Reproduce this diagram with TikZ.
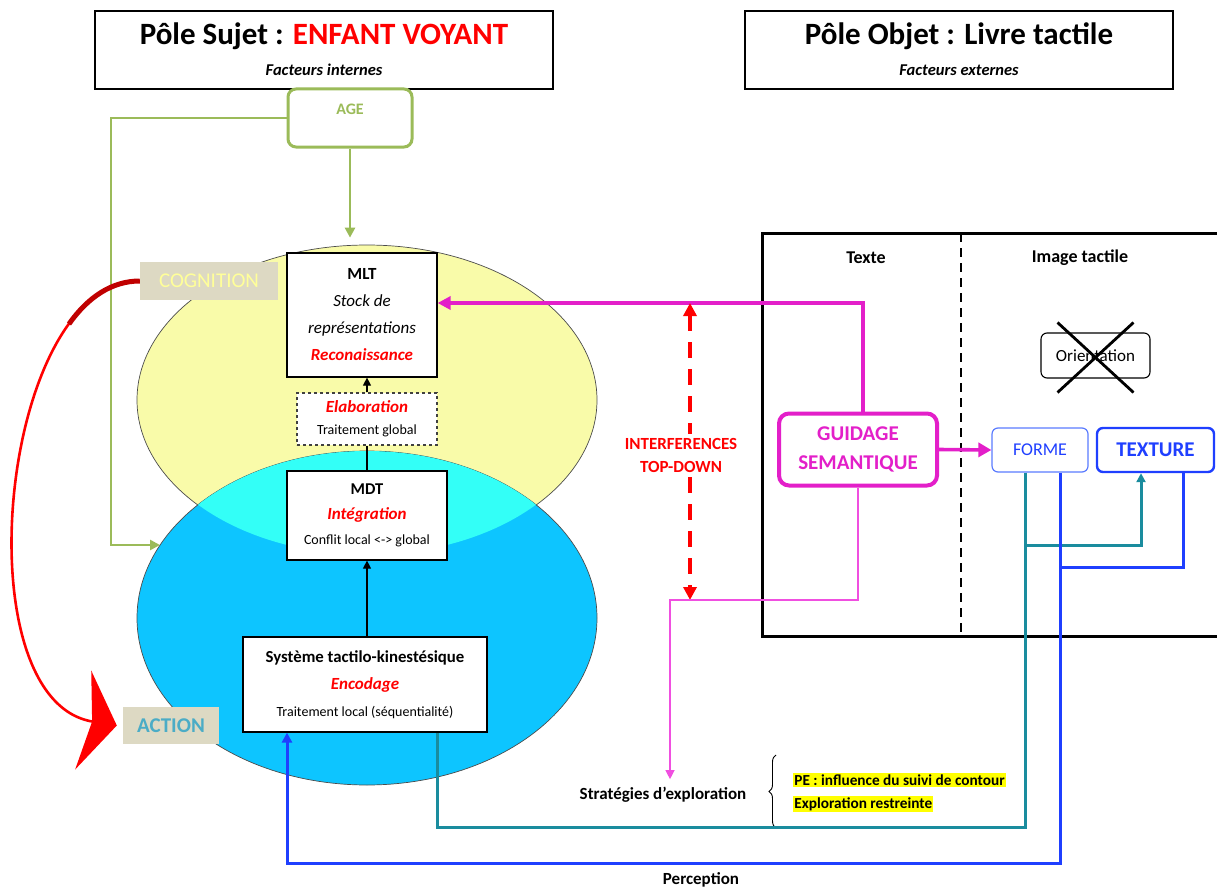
\documentclass[tikz,border=0pt]{standalone}
\usepackage{fontspec}
\setmainfont{Carlito}
\usetikzlibrary{shapes.geometric,arrows.meta,decorations.pathreplacing,calc}
\definecolor{gr}{HTML}{9BBB59}
\definecolor{mag}{HTML}{E31FC9}
\definecolor{magl}{HTML}{F04FE0}
\definecolor{tealc}{HTML}{1A8C9E}
\definecolor{bluc}{HTML}{1F3FFF}
\definecolor{blul}{HTML}{5A7BFF}
\definecolor{tanc}{HTML}{DDD9C3}
\definecolor{acttxt}{HTML}{4BACC6}
\definecolor{cogtxt}{HTML}{FFFF99}
\definecolor{ylw}{HTML}{F9FBA9}
\definecolor{cyn}{HTML}{33FFF7}
\definecolor{sky}{HTML}{0DC5FF}
\definecolor{dred}{HTML}{C00000}
\definecolor{hl}{HTML}{FFFF00}
\newcommand{\fsz}[2]{\fontsize{#1}{#2}\selectfont}
\begin{document}
\begin{tikzpicture}[x=1pt,y=-1pt,
  titlebox/.style={draw, line width=1.8pt, fill=white, inner sep=0pt},
  box/.style={draw, line width=1.2pt, fill=white, align=center, inner sep=0pt},
  rbox/.style={draw, rounded corners=6pt, fill=white, align=center, inner sep=0pt},
  lbl/.style={inner sep=0pt, align=center},
  tag/.style={fill=tanc, inner sep=0pt},
  greenline/.style={gr, line width=2.6pt},
  magline/.style={mag, line width=3.6pt},
  magthin/.style={magl, line width=1.2pt},
  tealline/.style={tealc, line width=3pt},
  blueline/.style={bluc, line width=3pt},
  blackarrow/.style={line width=1.2pt, -{Triangle[length=8pt,width=8pt]}}
]
\useasboundingbox (0,0) rectangle (1217,888);

% ---------- ellipses
\node[ellipse, fill=ylw, draw=black!70, line width=0.7pt, minimum width=460pt, minimum height=310pt, inner sep=0pt] (yel) at (367,400) {};
\node[ellipse, fill=sky, draw=black!70, line width=0.7pt, minimum width=460pt, minimum height=334pt, inner sep=0pt] (blu) at (367,618) {};
\begin{scope}
  \clip (367,400) ellipse [x radius=229.6pt, y radius=154.6pt];
  \fill[cyn] (367,618) ellipse [x radius=230pt, y radius=167pt];
\end{scope}

% ---------- title boxes
\node[titlebox, minimum width=458pt, minimum height=78pt] (subj) at (324,50) {};
\node[lbl, font=\fsz{31}{34}\bfseries] (subjT) at (324,36) {Pôle Sujet : \textcolor{red}{ENFANT VOYANT}};
\node[lbl, font=\fsz{16.5}{18}\bfseries\itshape] (subjS) at (324,70) {Facteurs internes};
\node[titlebox, minimum width=428pt, minimum height=78pt] (obj) at (959,50) {};
\node[lbl, font=\fsz{31}{34}\bfseries] (objT) at (959,36) {Pôle Objet : Livre tactile};
\node[lbl, font=\fsz{16.5}{18}\bfseries\itshape] (objS) at (959,70) {Facteurs externes};

% ---------- AGE
\node[draw=gr, line width=3pt, rounded corners=8pt, fill=white, minimum width=124pt, minimum height=58pt, inner sep=0pt,
      text=gr, font=\fsz{16}{18}\bfseries, text height=11pt, text depth=17pt] (age) at (350,118) {AGE};
\coordinate (gleft) at (111,545);
\coordinate (gin) at (160,545);
\draw[greenline, -{Triangle[length=10pt,width=10pt]}] (age.west) -| (gleft) -- (gin);
\draw[greenline, -{Triangle[length=10pt,width=10pt]}] (age.south) -- ($(age.south |- yel.north)+(0,-7)$);

% ---------- boxes in ellipses
\node[box, minimum width=150pt, minimum height=124pt, font=\fsz{17}{27}] (mlt) at (362,315)
  {\textbf{MLT}\\ \textit{Stock de}\\ \textit{représentations}\\ \textcolor{red}{\textbf{\textit{Reconaissance}}}};
\node[box, draw=black!75, dashed, line width=1.2pt, minimum width=140pt, minimum height=52pt, font=\fsz{14}{22}] (elab) at (367,419)
  {\textcolor{red}{\fsz{17}{22}\textbf{\textit{Elaboration}}}\\ Traitement global};
\node[box, minimum width=160pt, minimum height=89pt, font=\fsz{14}{25}] (mdt) at (367,515.5)
  {\fsz{16.5}{25}\textbf{MDT}\\ \textcolor{red}{\fsz{17}{25}\textbf{\textit{Intégration}}}\\ Conflit local <-> global};
\node[box, minimum width=244pt, minimum height=95pt, font=\fsz{14}{27}] (sys) at (365,684.5)
  {\fsz{16.8}{27}\textbf{Système tactilo-kinestésique}\\ \textcolor{red}{\fsz{17}{27}\textbf{\textit{Encodage}}}\\ Traitement local (séquentialité)};

\draw[blackarrow] (elab.north) -- (elab.north |- mlt.south);
\draw[line width=1.2pt] (mdt.north) -- (elab.south);
\draw[blackarrow] (sys.north -| mdt.south) -- (mdt.south);

% ---------- COGNITION / ACTION
\node[tag, minimum width=138pt, minimum height=38pt, text=cogtxt, font=\fsz{21}{23}] (cog) at (209,281) {COGNITION};
\node[tag, minimum width=96pt, minimum height=37pt, text=acttxt, font=\fsz{21}{23}\bfseries] (act) at (171,725.5) {ACTION};
\draw[red, line width=2.6pt, -{Stealth[length=34pt,width=100pt,inset=9pt]}]
  (cog.west) .. controls (0,280) and (-40,700) .. ([xshift=-6pt]act.west);
\coordinate (cogbend) at (69,324);
\draw[dred, line width=5pt] (cog.west) .. controls (112,281) and (88,297) .. (cogbend);

% ---------- right panel
\coordinate (bookTL) at (762,233);
\coordinate (bookBR) at (1230,636);
\draw[line width=3pt] (bookTL -| bookBR) -- (bookTL) |- (bookBR);
\coordinate (dashT) at (961,233);
\coordinate (dashB) at (961,636);
\draw[line width=2.4pt, dash pattern=on 9pt off 6pt] (dashT) -- (dashB);
\node[lbl, font=\fsz{18}{20}\bfseries] (texte) at (866,258) {Texte};
\node[lbl, font=\fsz{18}{20}\bfseries] (imgt) at (1080,258) {Image tactile};

\node[rbox, draw=black, line width=1.1pt, minimum width=109pt, minimum height=45pt, font=\fsz{17}{19}] (orient) at (1095.5,355.5) {Orientation};
\draw[line width=2.8pt] ($(orient.center)+(-38,-33)$) -- ($(orient.center)+(38,37)$);
\draw[line width=2.8pt] ($(orient.center)+(38,-33)$) -- ($(orient.center)+(-38,37)$);

\node[rbox, draw=mag, line width=4pt, rounded corners=10pt, minimum width=158pt, minimum height=72pt, text=mag, font=\fsz{21}{29}\bfseries] (gs) at (858,449.5) {GUIDAGE\\SEMANTIQUE};
\node[rbox, draw=blul, line width=1.2pt, minimum width=96pt, minimum height=44pt, text=bluc, font=\fsz{18}{20}] (forme) at (1040,450) {FORME};
\node[rbox, draw=bluc, line width=2.4pt, minimum width=117pt, minimum height=44pt, text=bluc, font=\fsz{21}{23}\bfseries] (texture) at (1155.5,450) {TEXTURE};

\draw[magline, -{Triangle[length=13pt,width=13pt]}] ([xshift=5pt]gs.north) |- ($(mlt.east)+(0,-12)$);
\draw[magline, -{Triangle[length=13pt,width=14pt]}] (gs.east) -- (forme.west);

% ---------- interferences
\coordinate (itop) at (690,303);
\coordinate (ibot) at (690,600);
\draw[red, line width=4.5pt, dash pattern=on 16pt off 11pt, {Triangle[length=13pt,width=13pt]}-{Triangle[length=13pt,width=13pt]}] (itop) -- (ibot);
\node[lbl, fill=white, inner sep=4pt, text=red, font=\fsz{17}{23}\bfseries] (interf) at (681,455) {INTERFERENCES\\TOP-DOWN};

% ---------- exploration
\node[lbl, font=\fsz{17}{19}\bfseries] (strat) at (663,795) {Stratégies d’exploration};
\coordinate (mcorner) at (670,600);
\draw[magthin, -{Triangle[length=9pt,width=9pt]}] (gs.south) |- (mcorner) -- ($(mcorner |- strat.north)+(0,-8)$);
\coordinate (brB) at (776,828);
\coordinate (brT) at (776,755);
\draw[line width=0.9pt, decorate, decoration={brace, amplitude=7pt}] (brB) -- (brT);
\node[anchor=west, fill=hl, inner sep=1.2pt, font=\fsz{15.3}{17}\bfseries] (pe) at (793,780) {PE : influence du suivi de contour};
\node[anchor=west, fill=hl, inner sep=1.2pt, font=\fsz{15.3}{17}\bfseries] (expl) at (793,804) {Exploration restreinte};

% ---------- teal & blue feedback lines
\coordinate (tj) at (1025,545);
\coordinate (tb) at (1025,827);
\draw[tealline] ([xshift=-15pt]forme.south) -- (tj);
\draw[tealline, -{Triangle[length=9pt,width=9pt]}] (tj) -| ([xshift=-14.5pt]texture.south);
\draw[tealline] (tj) -- (tb) -| ([xshift=72pt]sys.south);
\coordinate (bj) at (1060,567);
\coordinate (bb) at (1060,863);
\draw[blueline] ([xshift=28pt]texture.south) |- (bj);
\draw[blueline, -{Triangle[length=10pt,width=10pt]}] ([xshift=20pt]forme.south) -- (bb) -| ([xshift=-78pt]sys.south);
\node[lbl, font=\fsz{17}{19}\bfseries] (perc) at (701,880) {Perception};
\end{tikzpicture}
\end{document}
